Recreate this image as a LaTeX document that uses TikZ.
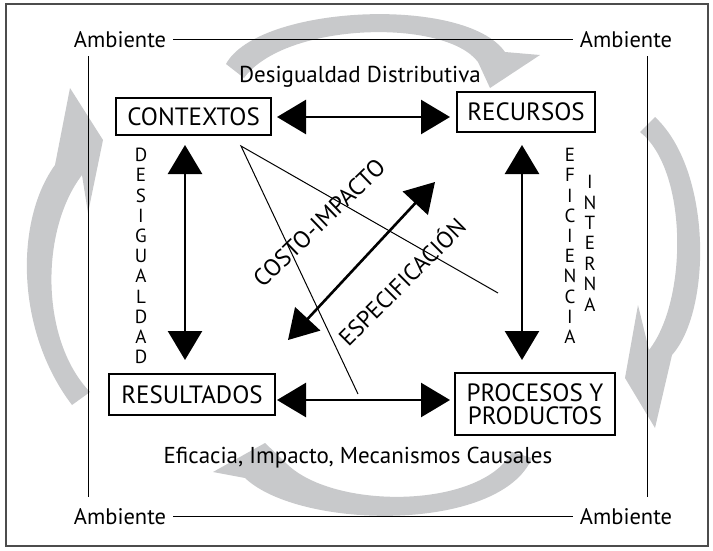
\documentclass[tikz,border=0pt]{standalone}
\usepackage{fontspec}
\setmainfont{PT Sans}
\usetikzlibrary{arrows.meta}
\definecolor{cyclegray}{RGB}{200,201,203}
\newcommand\figambfont{\fontsize{22.5}{24}\selectfont}
\newcommand\figboxfont{\fontsize{25}{22.5}\selectfont}
\newcommand\figlabfont{\fontsize{23}{24}\selectfont}
\newcommand\figletfont{\fontsize{19}{20}\selectfont}
\newcommand\figdiagfont{\fontsize{24}{24}\selectfont}
\begin{document}
\begin{tikzpicture}[x=1pt,y=-1pt,
  box/.style={draw, line width=2pt, inner sep=0pt, outer sep=0pt, align=center, font=\figboxfont},
  amb/.style={inner sep=7pt, font=\figambfont},
  lab/.style={inner sep=0pt, font=\figlabfont},
  letter/.style={inner sep=0pt, font=\figletfont},
  diag/.style={inner sep=0pt, font=\figdiagfont},
  thin/.style={line width=1pt},
  bigarrow/.style={line width=2.6pt, {Triangle[length=29pt,width=34pt]}-{Triangle[length=29pt,width=34pt]}}]
\useasboundingbox (0,0) rectangle (713,550);

% light grey cycle arrows behind everything
\fill[cyclegray] (226,64) .. controls (258,5) and (465,-5) .. (505,52)
  -- (540,55) -- (490,88) -- (478,62)
  .. controls (445,18) and (285,22) .. (244,78) -- cycle;
\fill[cyclegray] (655,117) .. controls (712,170) and (712,310) .. (672,355)
  -- (655,428) -- (625,378) -- (638,305) -- (649,350)
  .. controls (688,300) and (688,170) .. (640,132) -- cycle;
\fill[cyclegray] (532,458) .. controls (500,533) and (300,530) .. (245,478)
  -- (213,472) -- (265,443) -- (285,462)
  .. controls (330,510) and (480,510) .. (512,452) -- cycle;
\fill[cyclegray] (72,405) .. controls (15,330) and (15,220) .. (55,165)
  -- (70,88) -- (103,140) -- (88,213) -- (82,175)
  .. controls (40,230) and (40,340) .. (90,392) -- cycle;

% outer frame
\draw[line width=1.4pt, black!70] (6,4) rectangle (708,546);

% environment frame
\node[amb, anchor=base] (ambTL) at (120,47) {Ambiente};
\node[amb, anchor=base] (ambTR) at (626,47) {Ambiente};
\node[amb, anchor=base] (ambBL) at (120,524) {Ambiente};
\node[amb, anchor=base] (ambBR) at (626,524) {Ambiente};
\draw[thin] (ambTL.east) -- (ambTR.west);
\draw[thin] (ambBL.east) -- (ambBR.west);
\coordinate (vlT) at (88,56);  \coordinate (vlB) at (88,497);
\coordinate (vrT) at (647,56); \coordinate (vrB) at (647,497);
\draw[thin] (vlT) -- (vlB);
\draw[thin] (vrT) -- (vrB);

% the four boxes
\node[box, minimum width=155pt, minimum height=37pt] (ctx) at (193.5,116.5) {CONTEXTOS};
\node[box, minimum width=138pt, minimum height=40pt] (rec) at (526,112) {RECURSOS};
\node[box, minimum width=166pt, minimum height=41pt] (res) at (192,394.5) {RESULTADOS};
\node[box, minimum width=160pt, minimum height=62pt] (proc) at (535,404) {PROCESOS Y\\PRODUCTOS};

% side labels
\node[lab, anchor=base] (desig) at (360,82) {Desigualdad Distributiva};
\node[lab, anchor=base] (efic) at (358,463) {Eficacia, Impacto, Mecanismos Causales};

% thin crossing lines
\coordinate (fanA) at (241,146);
\coordinate (fanB) at (498,293);
\coordinate (fanC) at (358,394);
\draw[thin] (fanB) -- (fanA) -- (fanC);

% black double arrows between boxes
\coordinate (topLevel) at (0,117);
\coordinate (botLevel) at (0,400);
\draw[bigarrow, shorten <=6pt, shorten >=7pt] (ctx.east |- topLevel) -- (rec.west |- topLevel);
\draw[bigarrow, shorten <=2pt, shorten >=5pt] (res.east |- botLevel) -- (proc.west |- botLevel);
\draw[bigarrow, shorten <=10pt, shorten >=14pt] ([xshift=-8.5pt]ctx.south) -- ([xshift=-8.5pt]ctx.south |- res.north);
\draw[bigarrow, shorten <=13pt, shorten >=13pt] ([xshift=-4pt]rec.south) -- ([xshift=-4pt]rec.south |- proc.north);
\coordinate (dgA) at (288,340);
\coordinate (dgB) at (435,182);
\draw[bigarrow] (dgA) -- (dgB);

% diagonal labels
\node[diag, rotate=44] (costo) at (319,223) {COSTO-IMPACTO};
\node[diag, rotate=45, font=\fontsize{23.5}{24}\selectfont] (espec) at (401,281) {ESPECIFICACIÓN};

% stacked letters
\foreach \l [count=\i] in {D,E,S,I,G,U,A,L,D,A,D}
  \node[letter] (des\i) at (141,{155+20.2*(\i-1)}) {\l};
\foreach \l [count=\i] in {E,F,I,C,I,E,N,C,I,A}
  \node[letter] (efi\i) at (570,{155+20.2*(\i-1)}) {\l};
\foreach \l [count=\i] in {I,N,T,E,R,N,A}
  \node[letter] (int\i) at (590,{182+20.4*(\i-1)}) {\l};
\end{tikzpicture}
\end{document}
